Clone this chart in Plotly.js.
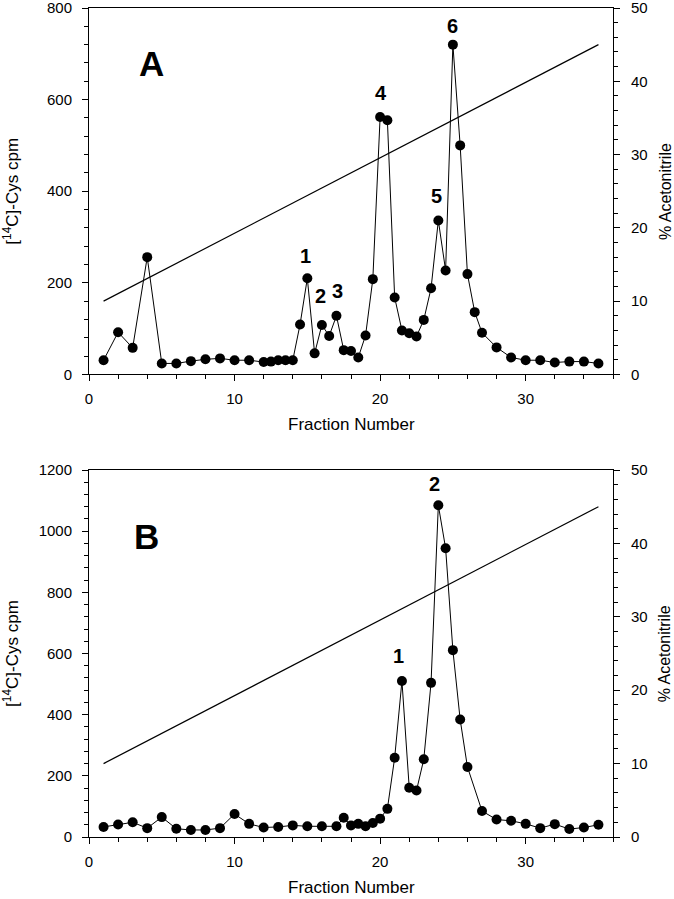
<!DOCTYPE html>
<html>
<head>
<meta charset="utf-8">
<script src="https://cdn.plot.ly/plotly-3.0.1.min.js"></script>
<style>
  html, body { margin: 0; padding: 0; background: #ffffff; }
  #chart { width: 674px; height: 899px; }
</style>
</head>
<body>
<div id="chart"></div>
<script>
// ---- Panel A data ----
const fractionsA = [1,2,3,4,5,6,7,8,9,10,11,12,12.5,13,13.5,14,14.5,15,15.5,16,16.5,17,17.5,18,18.5,19,19.5,20,20.5,21,21.5,22,22.5,23,23.5,24,24.5,25,25.5,26,26.5,27,28,29,30,31,32,33,34,35];
const cpmA = [31,92,58,256,24,24,29,33,35,31,31,27,28,31,31,31,109,210,46,108,84,128,53,51,37,85,208,562,555,168,96,90,83,119,188,336,227,720,500,219,136,91,59,37,31,31,26,28,28,24];

// ---- Panel B data ----
const fractionsB = [1,2,3,4,5,6,7,8,9,10,11,12,13,14,15,16,17,17.5,18,18.5,19,19.5,20,20.5,21,21.5,22,22.5,23,23.5,24,24.5,25,25.5,26,27,28,29,30,31,32,33,34,35];
const cpmB = [33,41,48,29,65,27,23,23,29,75,43,31,33,38,35,35,35,63,38,43,35,46,60,92,259,510,161,152,254,504,1085,944,611,384,229,85,57,53,43,29,42,26,31,40];

// ---- Acetonitrile gradient ----
const gradientFractions = [1, 35];
const acetonitrileA = [10, 45];
const acetonitrileB = [10, 45];

// ---- Peak labels (text positions in data units) ----
const peakTextA = ['1','2','3','4','5','6'];
const peakXA = [14.85, 15.93, 17.07, 20.07, 23.89, 24.96];
const peakYA = [258, 171, 182, 614, 389, 760];
const peakTextB = ['1','2'];
const peakXB = [21.26, 23.75];
const peakYB = [592, 1154];

// ---- Axis tick values ----
const xTickVals = [0, 10, 20, 30];
const yTickValsA = [0, 200, 400, 600, 800];
const yTickValsB = [0, 200, 400, 600, 800, 1000, 1200];
const pctTickVals = [0, 10, 20, 30, 40, 50];
const fnt = 'Liberation Sans, Arial, Helvetica, sans-serif';

const markerStyle = {color: '#000', size: 10};
const lineStyle = {color: '#000', width: 1};

const traces = [
  {x: fractionsA, y: cpmA, xaxis: 'x', yaxis: 'y', mode: 'lines+markers',
   line: lineStyle, marker: markerStyle, showlegend: false},
  {x: gradientFractions, y: acetonitrileA, xaxis: 'x', yaxis: 'y2', mode: 'lines',
   line: {color: '#000', width: 1.2}, showlegend: false},
  {x: fractionsB, y: cpmB, xaxis: 'x2', yaxis: 'y3', mode: 'lines+markers',
   line: lineStyle, marker: markerStyle, showlegend: false},
  {x: gradientFractions, y: acetonitrileB, xaxis: 'x2', yaxis: 'y4', mode: 'lines',
   line: {color: '#000', width: 1.2}, showlegend: false}
];

const tickFont = {family: fnt, size: 15, color: '#000'};

function xAxis(anchor) {
  return {
    anchor: anchor, domain: [0, 1], range: [0, 36],
    tickvals: xTickVals, ticks: 'outside', ticklen: 6, tickwidth: 1, tickcolor: '#000',
    minor: {dtick: 2, tick0: 0, ticks: 'outside', ticklen: 4, tickcolor: '#000', showgrid: false},
    showline: true, mirror: true, linecolor: '#000', linewidth: 1,
    showgrid: false, zeroline: false, ticklabelstandoff: 5,
    tickfont: tickFont, ticklabeloverflow: 'allow'
  };
}
function yLeft(domain, max, vals) {
  return {
    domain: domain, range: [0, max], tickvals: vals,
    ticks: 'outside', ticklen: 6, tickwidth: 1, tickcolor: '#000',
    minor: {dtick: 40, tick0: 0, ticks: 'outside', ticklen: 4, tickcolor: '#000', showgrid: false},
    showline: true, linecolor: '#000', linewidth: 1,
    showgrid: false, zeroline: false, ticklabelstandoff: 7,
    tickfont: tickFont, ticklabeloverflow: 'allow'
  };
}
function yRight(overlay, anchor) {
  return {
    overlaying: overlay, anchor: anchor, side: 'right', range: [0, 50], tickvals: pctTickVals,
    ticks: 'outside', ticklen: 6, tickwidth: 1, tickcolor: '#000',
    minor: {dtick: 2, tick0: 0, ticks: 'outside', ticklen: 4, tickcolor: '#000', showgrid: false},
    showline: true, linecolor: '#000', linewidth: 1,
    showgrid: false, zeroline: false, ticklabelstandoff: 8,
    tickfont: tickFont, ticklabeloverflow: 'allow'
  };
}

const annotations = [];
function addText(text, x, y, xref, yref, size, bold, angle) {
  annotations.push({
    text: bold ? '<b>' + text + '</b>' : text, x: x, y: y, xref: xref, yref: yref,
    showarrow: false, textangle: angle || 0, xanchor: 'center', yanchor: 'middle',
    font: {family: fnt, size: size, color: '#000'}
  });
}
peakTextA.forEach((t, i) => addText(t, peakXA[i], peakYA[i], 'x', 'y', 20, true));
peakTextB.forEach((t, i) => addText(t, peakXB[i], peakYB[i], 'x2', 'y3', 20, true));
addText('A', 4.26, 679, 'x', 'y', 35, true);
addText('B', 3.92, 982, 'x2', 'y3', 35, true);

// axis titles
const yTitleLeft = '[<sup>14</sup>C]-Cys cpm';
const yTitleRight = '% Acetonitrile';
const xTitle = 'Fraction Number';
addText(yTitleLeft, -0.148, 0.779, 'paper', 'paper', 17, false, -90);
addText(yTitleLeft, -0.148, 0.2214, 'paper', 'paper', 17, false, -90);
addText(yTitleRight, 1.099, 0.779, 'paper', 'paper', 16, false, -90);
addText(yTitleRight, 1.099, 0.2214, 'paper', 'paper', 16, false, -90);
addText(xTitle, 0.5, 0.497, 'paper', 'paper', 17, false);
addText(xTitle, 0.5, -0.061, 'paper', 'paper', 17, false);

const layout = {
  width: 674, height: 899,
  margin: {l: 89, r: 61, t: 8, b: 62},
  paper_bgcolor: '#fff', plot_bgcolor: '#fff',
  font: {family: fnt, color: '#000'},
  showlegend: false,
  xaxis: xAxis('y'),
  yaxis: yLeft([0.558, 1], 800, yTickValsA),
  yaxis2: yRight('y', 'x'),
  xaxis2: xAxis('y3'),
  yaxis3: yLeft([0, 0.4427], 1200, yTickValsB),
  yaxis4: yRight('y3', 'x2'),
  annotations: annotations
};

Plotly.newPlot('chart', traces, layout, {displayModeBar: false, staticPlot: true});
</script>
</body>
</html>
